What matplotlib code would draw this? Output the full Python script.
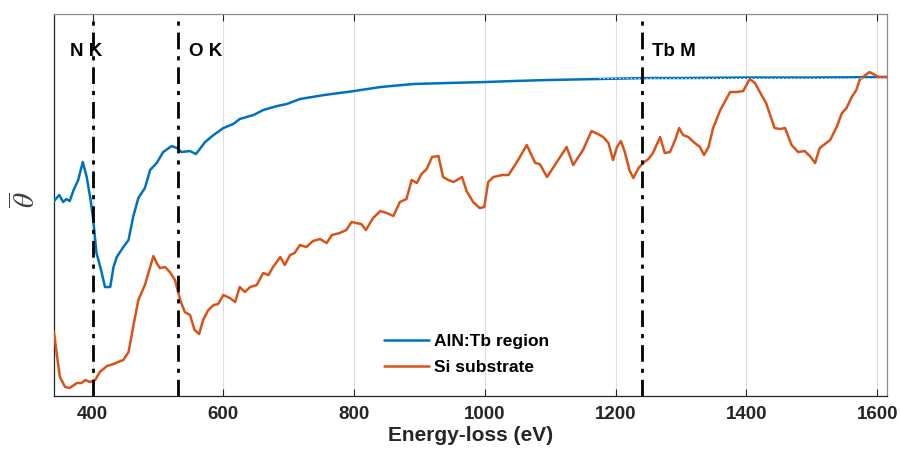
import matplotlib
matplotlib.use("Agg")
import matplotlib.pyplot as plt
import numpy as np

plt.rcParams['font.family'] = ['Liberation Sans', 'DejaVu Sans']
plt.rcParams['mathtext.fontset'] = 'stix'

# Mean scattering angle vs energy loss (arbitrary units)
aln_energy = [341, 349, 355, 360, 365, 371, 378, 385, 391, 397, 401, 406, 413, 419,
              427, 432, 437, 447, 455, 462, 470, 480, 488, 498, 508, 521, 529, 536,
              549, 558, 564, 572, 585, 600, 615, 625, 646, 661, 682, 697, 717, 754,
              800, 840, 890, 941, 1000, 1043, 1095, 1171, 1250, 1300, 1400, 1500, 1615]
aln_theta = [195, 201, 194, 197, 195, 206, 216, 234, 219, 196, 176, 143, 126, 109,
             109, 129, 139, 149, 156, 179, 198, 208, 226, 233, 244, 250, 248, 244,
             245, 242, 247, 254, 261, 268, 272, 277, 281, 286, 290, 292, 297, 301,
             305, 309, 312, 313, 314, 315, 316, 317, 318, 318, 318.5, 318.5, 319]

si_energy = [341, 345, 350, 358, 365, 376, 383, 389, 396, 404, 411, 422, 432, 439,
             447, 455, 462, 470, 480, 488, 493, 498, 503, 511, 518, 526, 534, 541,
             549, 556, 563, 569, 577, 585, 592, 600, 610, 618, 625, 633, 641, 651,
             661, 669, 676, 687, 694, 702, 709, 717, 727, 737, 748, 758, 766, 778,
             788, 796, 803, 811, 818, 829, 840, 850, 860, 870, 880, 888, 896, 903,
             911, 919, 929, 936, 944, 952, 965, 972, 982, 992, 999, 1005, 1013, 1026,
             1036, 1049, 1064, 1077, 1084, 1095, 1107, 1125, 1135, 1150, 1163, 1173,
             1181, 1189, 1196, 1202, 1208, 1214, 1221, 1227, 1235, 1242, 1250, 1257,
             1268, 1275, 1283, 1291, 1297, 1303, 1311, 1321, 1329, 1335, 1342, 1349,
             1360, 1375, 1385, 1395, 1405, 1413, 1423, 1430, 1443, 1451, 1459, 1469,
             1479, 1489, 1497, 1505, 1512, 1528, 1538, 1546, 1553, 1561, 1568, 1573,
             1580, 1588, 1594, 1602, 1615]
si_theta = [64, 43, 19, 9, 8, 13, 13, 16, 14, 16, 24, 30, 32, 34,
            36, 44, 69, 96, 111, 129, 140, 133, 128, 129, 124, 116, 96, 84,
            81, 66, 62, 76, 86, 91, 92, 101, 98, 94, 109, 104, 109, 111,
            123, 121, 129, 139, 131, 141, 143, 151, 149, 155, 157, 153, 161, 163,
            166, 174, 173, 172, 166, 178, 185, 183, 180, 194, 197, 216, 213, 222,
            227, 239, 240, 219, 216, 214, 219, 205, 194, 188, 189, 214, 219, 221,
            221, 234, 251, 233, 232, 219, 231, 249, 231, 246, 265, 262,
            259, 253, 236, 249, 255, 244, 226, 218, 228, 233, 237, 243,
            259, 243, 244, 256, 268, 261, 259, 253, 249, 241, 249, 268,
            286, 304, 304, 305, 317, 313, 301, 293, 268, 267, 268, 251,
            244, 245, 240, 233, 248, 256, 269, 283, 288, 299, 306, 316,
            320, 324, 322, 319, 319]

edge_energy = [400, 531, 1241]
edge_labels = ["N K", "O K", "Tb M"]
edge_label_x = [366, 547, 1255]
x_ticks = [400, 600, 800, 1000, 1200, 1400, 1600]

fig = plt.figure(figsize=(9, 4.53), dpi=100)
ax = fig.add_axes([0.06, 0.1258, 0.9256, 0.8432])

blue = '#0072BD'
orange = '#D95319'

ax.grid(True, axis='x', color='#dedede', linewidth=0.8)
ax.set_axisbelow(True)

ax.plot(aln_energy, aln_theta, color=blue, linewidth=1.8, label='AlN:Tb region',
        zorder=3, solid_joinstyle='round', solid_capstyle='round')
ax.plot(si_energy, si_theta, color=orange, linewidth=1.8, label='Si substrate',
        zorder=3, solid_joinstyle='round', solid_capstyle='round')
ax.plot([1175, 1615], [318.5, 318.5], color='#d8e8f5', linewidth=0.7,
        linestyle=(0, (1.5, 2.5)), zorder=4)

for e in edge_energy:
    ax.axvline(e, color='black', linewidth=2.0, linestyle=(0, (6, 2.5, 1.5, 2.5)), zorder=5)
for xl, lab in zip(edge_label_x, edge_labels):
    ax.text(xl, 345, lab, fontsize=13.5, fontweight='bold', color='black',
            ha='left', va='center', zorder=6)

ax.set_xlim(341, 1615)
ax.set_ylim(0, 382)
ax.set_xticks(x_ticks)
ax.set_yticks([])
ax.tick_params(axis='x', direction='in', length=5, width=0.8, colors='#262626',
               labelsize=13.5, pad=7, top=True)
for lbl in ax.get_xticklabels():
    lbl.set_fontweight('bold')

for side in ['left', 'bottom']:
    ax.spines[side].set_color('#262626')
    ax.spines[side].set_linewidth(0.9)
for side in ['top', 'right']:
    ax.spines[side].set_color('#8c8c8c')
    ax.spines[side].set_linewidth(0.9)

ax.set_xlabel('Energy-loss (eV)', fontsize=15, fontweight='bold', color='#262626', labelpad=2)
fig.text(0.029, 0.56, r'$\overline{\theta}$', rotation=90, fontsize=21,
         color='#404040', ha='center', va='center')

leg = ax.legend(loc='lower left', bbox_to_anchor=(0.377, 0.015), frameon=False,
                prop={'size': 12.5, 'weight': 'bold'}, handlelength=2.6,
                handletextpad=0.3, labelspacing=0.6)

fig.savefig('out.png', dpi=100)
